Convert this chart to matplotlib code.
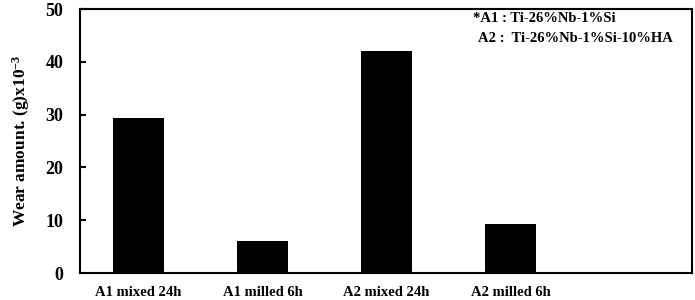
import matplotlib
matplotlib.use("Agg")
import matplotlib.pyplot as plt
import numpy as np

categories = ["A1 mixed 24h", "A1 milled 6h", "A2 mixed 24h", "A2 milled 6h"]
wear = [29.4, 6.1, 42.0, 9.3]
yticks = [0, 10, 20, 30, 40, 50]

plt.rcParams['font.family'] = ['Liberation Serif', 'DejaVu Serif']
plt.rcParams['font.weight'] = 'bold'
plt.rcParams['mathtext.fontset'] = 'custom'
plt.rcParams['mathtext.rm'] = 'Liberation Serif:bold'
plt.rcParams['mathtext.bf'] = 'Liberation Serif:bold'
plt.rcParams['mathtext.default'] = 'bf'

fig = plt.figure(figsize=(6.95, 3.0), dpi=100)
ax = fig.add_axes([80/695, 27/300, 612/695, 264/300])

x = np.arange(len(categories))
ax.bar(x, wear, width=0.41, color='black')
ax.set_xlim(-0.47, 4.46)
ax.set_ylim(0, 50)
ax.set_yticks(yticks)
ax.set_yticklabels([str(t) for t in yticks], fontsize=13, fontweight='bold')
ax.set_xticks(x)
ax.set_xticklabels(categories, fontsize=10.5, fontweight='bold')
ax.tick_params(axis='y', direction='in', length=4, width=1.5, pad=12)
ax.tick_params(axis='x', length=0, pad=9)
for s in ax.spines.values():
    s.set_linewidth(1.5)
ax.set_ylabel("Wear amount. (g)x10$^{-3}$", fontsize=12.5, fontweight='bold', labelpad=10)

fig.text(473/695, 1 - 19/300, "*A1 : Ti-26%Nb-1%Si",
         fontsize=10.5, fontweight='bold', ha='left', va='center')
fig.text(478/695, 1 - 38/300, "A2 :  Ti-26%Nb-1%Si-10%HA",
         fontsize=10.5, fontweight='bold', ha='left', va='center')

fig.savefig("out.png", dpi=100)
